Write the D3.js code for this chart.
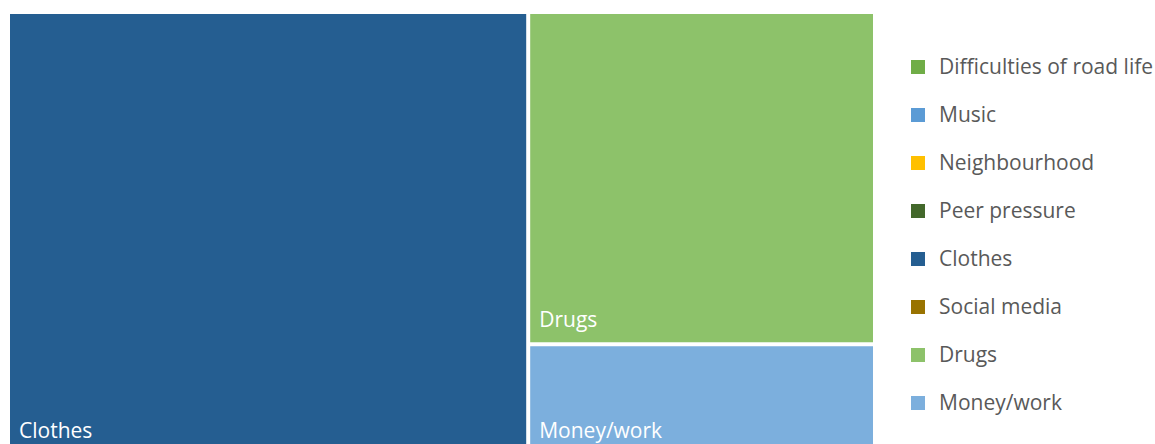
<!DOCTYPE html>
<html>
<head>
<meta charset="utf-8">
<script src="https://cdn.jsdelivr.net/npm/d3@7"></script>
<style>
  html, body { margin: 0; padding: 0; background: #fff; overflow: hidden; }
  svg { display: block; }
  text { font-family: "Open Sans", "Noto Sans", sans-serif; }
</style>
</head>
<body>
<svg id="chart" width="1155" height="444"></svg>
<script>
// Reasons categories, in legend order
const categories = [
  "Difficulties of road life", "Music", "Neighbourhood", "Peer pressure",
  "Clothes", "Social media", "Drugs", "Money/work"
];
// Share of responses per category (%)
const values = [0, 0, 0, 0, 60, 0, 30, 10];
const colors = [
  "#70AD47", "#5B9BD5", "#FFC000", "#43682B",
  "#255E91", "#997300", "#8DC26A", "#7CAFDD"
];

const svg = d3.select("#chart");

const color = d3.scaleOrdinal().domain(categories).range(colors);

// Treemap area (runs a little past the bottom of the frame)
const tm = { x: 10, y: 14, w: 863, h: 439 };

const data = categories.map((c, i) => ({ name: c, value: values[i] }))
  .filter(d => d.value > 0);

const root = d3.hierarchy({ children: data })
  .sum(d => d.value || 0)
  .sort((a, b) => b.value - a.value);

d3.treemap()
  .tile(d3.treemapSquarify)
  .size([tm.w, tm.h])
  .paddingInner(4)
  .round(false)(root);

const g = svg.append("g").attr("transform", `translate(${tm.x},${tm.y})`);

const cell = g.selectAll("g.cell")
  .data(root.leaves())
  .join("g")
  .attr("class", "cell");

cell.append("rect")
  .attr("x", d => d.x0)
  .attr("y", d => d.y0)
  .attr("width", d => d.x1 - d.x0)
  .attr("height", d => d.y1 - d.y0)
  .attr("fill", d => color(d.data.name));

cell.append("text")
  .attr("x", d => d.x0 + 9)
  .attr("y", d => d.y1 - 15)
  .attr("fill", "#ffffff")
  .attr("font-size", 21)
  .text(d => d.data.name);

// Legend
const legendY = d3.scalePoint().domain(categories).range([67, 403]);
const legend = svg.append("g").attr("class", "legend");
const item = legend.selectAll("g")
  .data(categories)
  .join("g")
  .attr("transform", d => `translate(911,${legendY(d)})`);

item.append("rect")
  .attr("x", 0).attr("y", -7)
  .attr("width", 14).attr("height", 14)
  .attr("fill", d => color(d));

item.append("text")
  .attr("x", 28)
  .attr("y", 0)
  .attr("dy", "0.35em")
  .attr("font-size", 21)
  .attr("fill", "#595959")
  .text(d => d);
</script>
</body>
</html>
